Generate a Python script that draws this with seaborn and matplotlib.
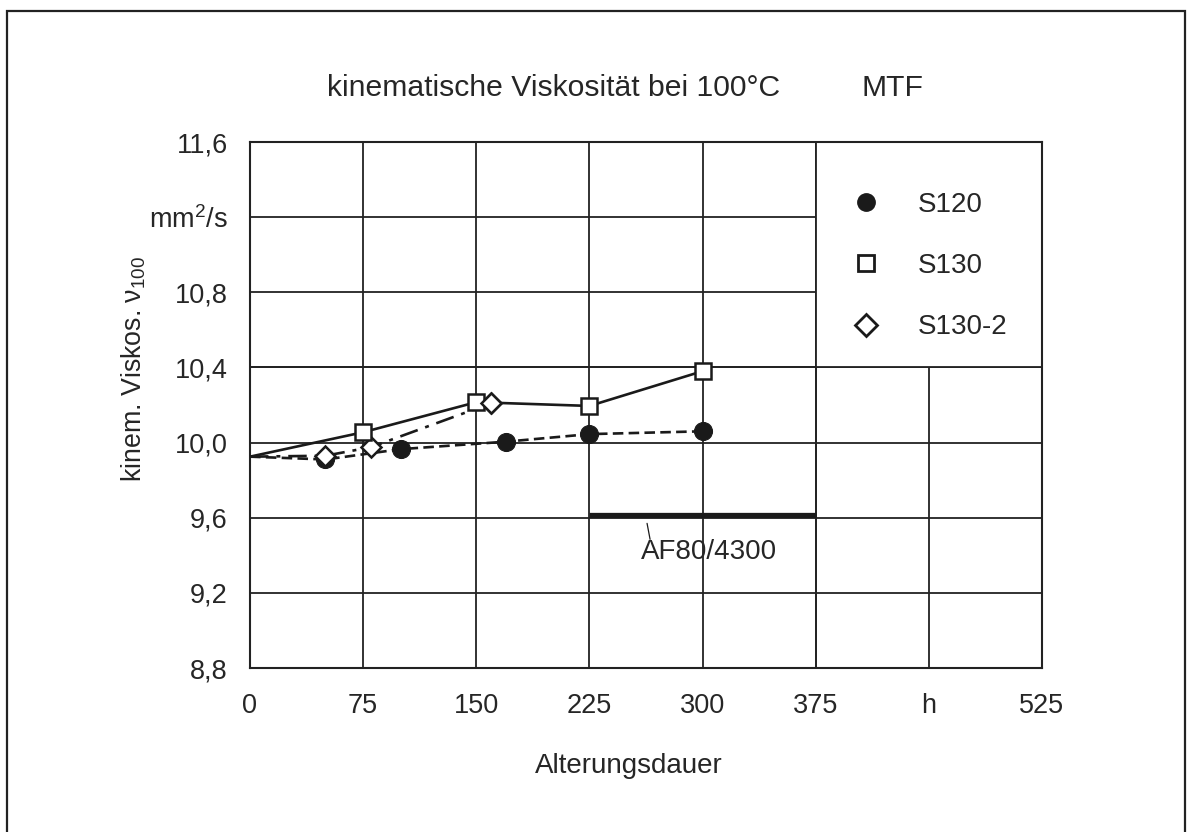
import matplotlib
matplotlib.use("Agg")
import matplotlib.pyplot as plt
import seaborn as sns
import pandas as pd
from matplotlib.patches import Rectangle
from matplotlib.lines import Line2D

sns.set_theme(style="white")
plt.rcParams['font.family'] = ['Liberation Sans', 'DejaVu Sans']
plt.rcParams['mathtext.fontset'] = 'custom'
plt.rcParams['mathtext.rm'] = 'Liberation Sans'
plt.rcParams['mathtext.it'] = 'Liberation Sans'

# Data
s120_x = [0, 50, 100, 170, 225, 300]
s120_y = [9.925, 9.91, 9.965, 10.005, 10.045, 10.06]
s130_x = [0, 75, 150, 225, 300]
s130_y = [9.925, 10.055, 10.215, 10.195, 10.38]
s1302_x = [0, 50, 80, 160]
s1302_y = [9.925, 9.93, 9.975, 10.21]
af_x = [225, 375]
af_y = [9.617, 9.617]

xticks = [0, 75, 150, 225, 300, 375, 450, 525]
xticklabels = ['0', '75', '150', '225', '300', '375', 'h', '525']
yticks = [8.8, 9.2, 9.6, 10.0, 10.4, 10.8, 11.2, 11.6]
yticklabels = ['8,8', '9,2', '9,6', '10,0', '10,4', '10,8', 'mm$^{2}$/s', '11,6']

W, H = 1187, 832
fig = plt.figure(figsize=(W / 100, H / 100), dpi=100)
ax = fig.add_axes([250 / W, 1 - 668 / H, (1042 - 250) / W, (668 - 142) / H])

FS = 19.5   # tick labels
FL = 20     # labels, legend, annotation
FT = 21.7   # title
lw = 1.9

ax.set_xlim(0, 525)
ax.set_ylim(8.8, 11.6)
ax.set_xticks(xticks)
ax.set_xticklabels(xticklabels, fontsize=FS)
ax.set_yticks(yticks)
ax.set_yticklabels(yticklabels, fontsize=FS)
ax.tick_params(axis='x', length=0, pad=18)
ax.tick_params(axis='y', length=0, pad=16)
ax.grid(True, color='#222222', linewidth=1.3, zorder=1)
ax.set_axisbelow(True)
for sp in ax.spines.values():
    sp.set_color('#222222')
    sp.set_linewidth(1.5)

# white patch where the legend sits (grid removed)
ax.add_patch(Rectangle((375, 10.4), 150, 1.2, facecolor='white', edgecolor='none', zorder=1.2))
ax.axvline(375, color='#222222', linewidth=1.3, zorder=1.3)
ax.axhline(10.4, color='#222222', linewidth=1.3, zorder=1.3)

df120 = pd.DataFrame({'x': s120_x, 'y': s120_y})
df130 = pd.DataFrame({'x': s130_x, 'y': s130_y})
df1302 = pd.DataFrame({'x': s1302_x, 'y': s1302_y})

sns.lineplot(data=df120, x='x', y='y', ax=ax, color='#1a1a1a', linewidth=lw,
             linestyle=(0, (4, 2)), marker='o', markersize=13,
             markerfacecolor='#1a1a1a', markeredgecolor='#1a1a1a',
             markevery=[1, 2, 3, 4, 5], zorder=3, sort=False)
sns.lineplot(data=df1302, x='x', y='y', ax=ax, color='#1a1a1a', linewidth=lw,
             linestyle=(0, (7, 3, 1.5, 3)), marker='D', markersize=10,
             markerfacecolor='white', markeredgecolor='#1a1a1a', markeredgewidth=1.8,
             markevery=[1, 2, 3], zorder=3.5, sort=False)
sns.lineplot(data=df130, x='x', y='y', ax=ax, color='#1a1a1a', linewidth=lw,
             linestyle='-', marker='s', markersize=11,
             markerfacecolor='white', markeredgecolor='#1a1a1a', markeredgewidth=1.8,
             markevery=[1, 2, 3, 4], zorder=4, sort=False)
# diamond at 160 drawn on top of the square
ax.plot(s1302_x[3:], s1302_y[3:], linestyle='none', marker='D', markersize=10,
        markerfacecolor='white', markeredgecolor='#1a1a1a', markeredgewidth=1.8, zorder=5)

# AF80/4300 bar
ax.plot(af_x, af_y, color='#1a1a1a', linewidth=3.8, solid_capstyle='butt', zorder=3)
ax.plot([263.2, 265.2], [9.57, 9.485], color='#1a1a1a', linewidth=0.9, zorder=3)
ax.text(259, 9.42, 'AF80/4300', fontsize=FL, ha='left', va='center')

ax.set_xlabel('')
ax.set_ylabel('')

# legend
handles = [
    Line2D([], [], linestyle='none', marker='o', markersize=12.5, markerfacecolor='#1a1a1a',
           markeredgecolor='#1a1a1a'),
    Line2D([], [], linestyle='none', marker='s', markersize=11.5, markerfacecolor='white',
           markeredgecolor='#1a1a1a', markeredgewidth=2.0),
    Line2D([], [], linestyle='none', marker='D', markersize=11.5, markerfacecolor='white',
           markeredgecolor='#1a1a1a', markeredgewidth=2.0),
]
leg = ax.legend(handles, ['S120', 'S130', 'S130-2'], loc='upper left',
                bbox_to_anchor=((834 - 250) / 792, (668 - 178) / 526),
                frameon=False, fontsize=FL, labelspacing=1.27, handletextpad=1.2,
                handlelength=1.3, borderpad=0)

# titles & labels
fig.text(327 / W, 1 - 88 / H, 'kinematische Viskosität bei 100°C', fontsize=FT,
         ha='left', va='center')
fig.text(862 / W, 1 - 88 / H, 'MTF', fontsize=FT, ha='left', va='center')
fig.text(629 / W, 1 - 766 / H, 'Alterungsdauer', fontsize=FL, ha='center', va='center')
fig.text(134 / W, 1 - 369 / H, 'kinem. Viskos. ν$_{100}$', fontsize=19.3, ha='center',
         va='center', rotation=90)

# outer frame (cropped at the bottom)
fig.add_artist(Rectangle((7 / W, -0.05), (1185 - 7) / W, 1.05 - 11 / H,
                         transform=fig.transFigure, facecolor='none',
                         edgecolor='#222222', linewidth=1.6))

fig.savefig('out.png', dpi=100, facecolor='white')
